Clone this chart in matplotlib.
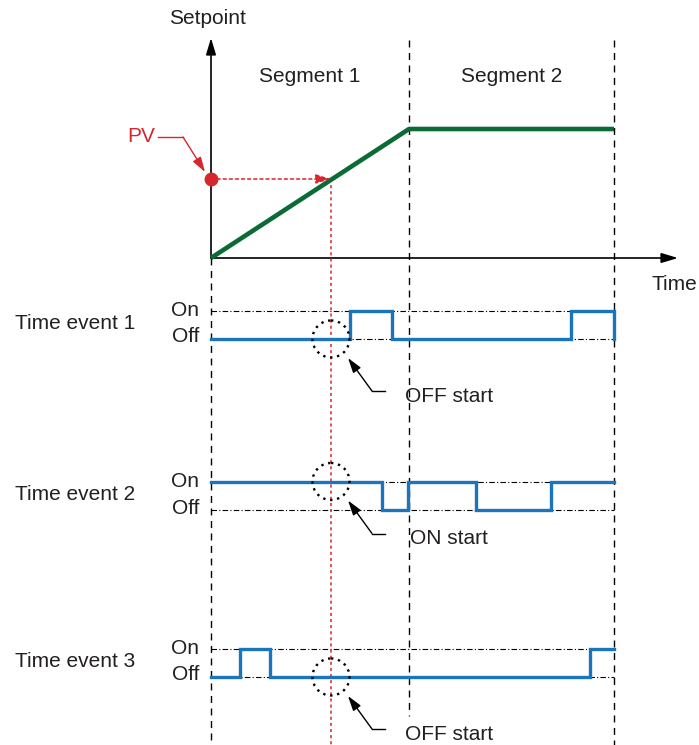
import matplotlib
matplotlib.use("Agg")
import matplotlib.pyplot as plt
from matplotlib.patches import Circle

plt.rcParams['font.family'] = ['Liberation Sans', 'DejaVu Sans']

# ---------------- data (time units, origin at the Setpoint axis) ----------
segment_names = ["Segment 1", "Segment 2"]
segment_bounds = [0, 198, 403]          # segment start/end times
setpoint_values = [0, 129, 129]         # setpoint at segment bounds
pv_value = 79                           # PV level
pv_time = 120                           # time at which ramp reaches PV

event_names = ["Time event 1", "Time event 2", "Time event 3"]
event_times = [
    [0, 139, 181, 360, 403],
    [0, 171, 197, 265, 340, 403],
    [0, 29, 59, 379, 403],
]
event_levels = [
    [0, 1, 0, 1, 0],
    [1, 0, 1, 0, 1, 1],
    [0, 1, 0, 1, 1],
]
event_notes = ["OFF start", "ON start", "OFF start"]
level_labels = ["On", "Off"]

# ---------------- layout ----------------
X0 = 211          # pixel x of time 0
Y_AXIS = 258      # pixel y of time axis
row_off = [339, 510, 677]
row_h = 28.5

GREEN = "#0b6b35"
BLUE = "#1a75bc"
RED = "#d7262e"
TXT = "#231f20"

fig = plt.figure(figsize=(6.99, 7.45), dpi=100)
ax = fig.add_axes([0, 0, 1, 1])
ax.set_xlim(-X0, 699 - X0)
ax.set_ylim(745, 0)
ax.axis("off")

def py(v):
    return Y_AXIS - v

t_end = segment_bounds[-1]
fs = 15

# dashed vertical segment boundary lines
ax.plot([0, 0], [Y_AXIS, 745], color="black", lw=1, dashes=(5, 4))
ax.plot([segment_bounds[1]] * 2, [40, 716], color="black", lw=1, dashes=(5, 4))
ax.plot([segment_bounds[2]] * 2, [40, 745], color="black", lw=1, dashes=(5, 4))

# axes arrows
ax.annotate("", xy=(0, 38), xytext=(0, Y_AXIS),
            arrowprops=dict(arrowstyle="-|>,head_length=1.0,head_width=0.3",
                            color="black", lw=1.2, shrinkA=0, shrinkB=0))
ax.annotate("", xy=(678 - X0, Y_AXIS), xytext=(0, Y_AXIS),
            arrowprops=dict(arrowstyle="-|>,head_length=1.0,head_width=0.3",
                            color="black", lw=1.2, shrinkA=0, shrinkB=0))
ax.text(-4, 19, "Setpoint", ha="center", va="center", fontsize=fs, color=TXT)
ax.text(674 - X0, 284, "Time", ha="center", va="center", fontsize=fs, color=TXT)

# segment labels
for i, name in enumerate(segment_names):
    xm = (segment_bounds[i] + segment_bounds[i + 1]) / 2
    ax.text(xm, 76, name, ha="center", va="center", fontsize=fs, color=TXT)

# setpoint profile
ax.plot(segment_bounds, [py(v) for v in setpoint_values], color=GREEN,
        lw=3.3, solid_capstyle="butt", zorder=4)

# PV
ax.plot([0], [py(pv_value)], "o", color=RED, ms=9, zorder=6)
ax.annotate("", xy=(pv_time, py(pv_value)), xytext=(0, py(pv_value)),
            arrowprops=dict(arrowstyle="-|>,head_length=0.9,head_width=0.28",
                            color=RED, lw=1.1, linestyle=(0, (2, 2)),
                            shrinkA=0, shrinkB=0), zorder=5)
ax.plot([pv_time, pv_time], [py(pv_value), 745], color=RED, lw=1.1,
        dashes=(2, 2), zorder=3)
ax.text(141 - X0, 137, "PV", ha="center", va="center", fontsize=fs, color=RED)
ax.plot([158 - X0, 183 - X0], [137, 137], color=RED, lw=1)
ax.annotate("", xy=(-6, 172), xytext=(183 - X0, 137),
            arrowprops=dict(arrowstyle="-|>,head_length=0.9,head_width=0.28",
                            color=RED, lw=1, shrinkA=0, shrinkB=0))

# time events
for i in range(3):
    yoff = row_off[i]
    yon = yoff - row_h
    ax.plot([0, t_end], [yon, yon], color="black", lw=0.8, dashes=(5, 2, 1, 2))
    ax.plot([0, t_end], [yoff, yoff], color="black", lw=0.8, dashes=(5, 2, 1, 2))
    ax.text(15 - X0, (yon + yoff) / 2 - 1, event_names[i], ha="left",
            va="center", fontsize=fs, color=TXT)
    ax.text(199 - X0, yon, level_labels[0], ha="right", va="center",
            fontsize=fs, color=TXT)
    ax.text(199 - X0, yoff - 2, level_labels[1], ha="right", va="center",
            fontsize=fs, color=TXT)

    ts = event_times[i]
    lv = event_levels[i]
    xs, ys = [], []
    for k in range(len(ts) - 1):
        y = yon if lv[k] else yoff
        xs += [ts[k], ts[k + 1]]
        ys += [y, y]
    ylast = yon if lv[-1] else yoff
    xs.append(ts[-1])
    ys.append(ylast)
    ax.plot(xs, ys, color=BLUE, lw=2.4, zorder=4, solid_joinstyle="miter")

    # dotted circle
    cy = yon if event_levels[i][0] == 1 else yoff
    ax.add_patch(Circle((pv_time, cy), 18.5, fill=False, edgecolor="black",
                        lw=1.7, linestyle=(0, (1, 2.0)), zorder=5))
    # leader
    tip_y = cy + 19
    ax.plot([372 - X0, 385 - X0], [cy + 52, cy + 52], color="black", lw=1)
    ax.annotate("", xy=(348 - X0, tip_y), xytext=(372 - X0, cy + 52),
                arrowprops=dict(arrowstyle="-|>,head_length=0.9,head_width=0.28",
                                color="black", lw=1, shrinkA=0, shrinkB=0))
    ax.text(405 - X0 if event_notes[i].startswith("OFF") else 410 - X0,
            cy + 57, event_notes[i], ha="left", va="center", fontsize=fs,
            color=TXT)

fig.savefig("out.png", dpi=100)
